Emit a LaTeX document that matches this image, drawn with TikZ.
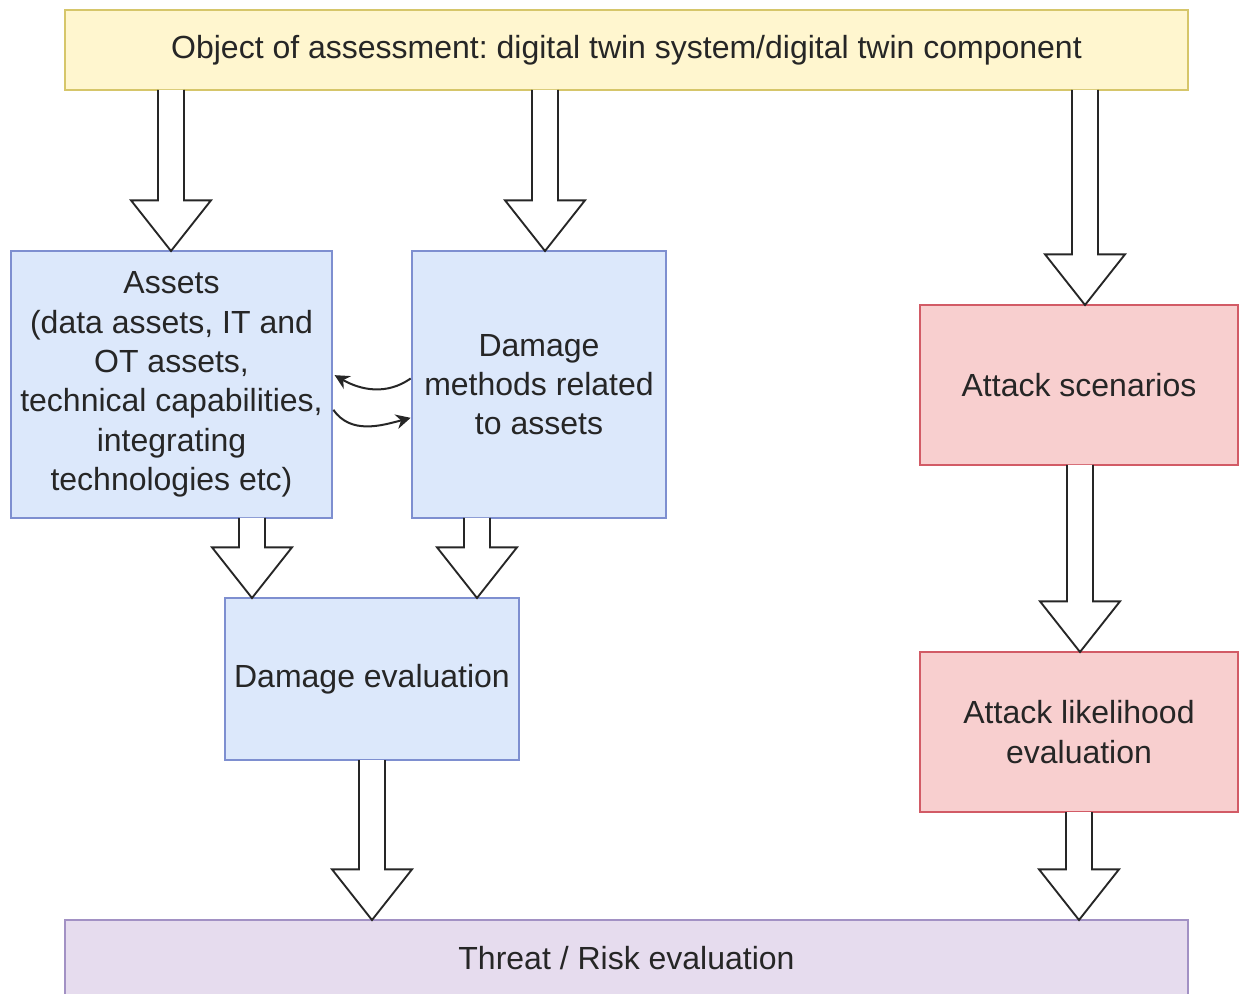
\documentclass[tikz,border=0pt]{standalone}
\usepackage{fontspec}
\setmainfont{Liberation Sans}
\usetikzlibrary{arrows.meta,calc}
\definecolor{yfill}{HTML}{FFF6CF}
\definecolor{ydraw}{HTML}{D6C66A}
\definecolor{bfill}{HTML}{DCE8FB}
\definecolor{bdraw}{HTML}{7E8FD0}
\definecolor{rfill}{HTML}{F8CFCF}
\definecolor{rdraw}{HTML}{D25B66}
\definecolor{pfill}{HTML}{E6DCEE}
\definecolor{pdraw}{HTML}{A291C4}
\definecolor{txt}{HTML}{262626}
\tikzset{
  box/.style={draw, line width=1pt, anchor=north west, inner sep=2pt, outer sep=0pt,
    align=center, text=txt, font=\frenchspacing\fontsize{24}{29.5}\selectfont},
  ybox/.style={box, fill=yfill, draw=ydraw},
  bbox/.style={box, fill=bfill, draw=bdraw},
  rbox/.style={box, fill=rfill, draw=rdraw},
  pbox/.style={box, fill=pfill, draw=pdraw},
  blockarrow/.style={draw=black!85, fill=white, line width=1.4pt, line join=miter},
  curvarrow/.style={draw=black!85, line width=1.5pt, -{Stealth[length=11pt,width=11pt]}}
}
% #1 x centre (px), #2 source node, #3 target node
\newcommand{\bigarrow}[3]{%
  \draw[blockarrow] let \p1=(#2.south), \p2=(#3.north) in
    ({(#1-13)*0.75pt},\y1) -- ({(#1-13)*0.75pt},\y2+38pt) -- ({(#1-40)*0.75pt},\y2+38pt)
    -- ({#1*0.75pt},\y2) -- ({(#1+40)*0.75pt},\y2+38pt) -- ({(#1+13)*0.75pt},\y2+38pt)
    -- ({(#1+13)*0.75pt},\y1);
}
\begin{document}
\begin{tikzpicture}[x=0.75pt,y=-0.75pt]
\useasboundingbox[fill=white] (0,0) rectangle (1239,994);
\clip (0,0) rectangle (1239,994);

\node[ybox, minimum width=842.25pt, minimum height=60pt] (top) at (65,10)
  {Object of assessment: digital twin system/digital twin component};
\node[bbox, minimum width=240.75pt, minimum height=200.25pt] (assets) at (11,251)
  {Assets\\(data assets, IT and\\OT assets,\\technical capabilities,\\integrating\\technologies etc)};
\node[bbox, minimum width=190.5pt, minimum height=200.25pt] (dm) at (412,251)
  {Damage\\methods related\\to assets};
\node[bbox, minimum width=220.5pt, minimum height=121.5pt] (de) at (225,598)
  {Damage evaluation};
\node[rbox, minimum width=238.5pt, minimum height=120pt] (scen) at (920,305)
  {Attack scenarios};
\node[rbox, minimum width=238.5pt, minimum height=120pt] (lik) at (920,652)
  {Attack likelihood\\evaluation};
\node[pbox, minimum width=842.25pt, minimum height=57.75pt] (risk) at (65,920)
  {Threat / Risk evaluation};

\bigarrow{171}{top}{assets}
\bigarrow{545}{top}{dm}
\bigarrow{1085}{top}{scen}
\bigarrow{252}{assets}{de}
\bigarrow{477}{dm}{de}
\bigarrow{372}{de}{risk}
\bigarrow{1080}{scen}{lik}
\bigarrow{1079}{lik}{risk}

\coordinate (c1) at ([xshift=-1pt,yshift=4.5pt]dm.west);
\coordinate (c2) at ([xshift=2pt,yshift=7pt]assets.east);
\coordinate (c3) at ([xshift=1pt,yshift=-19pt]assets.east);
\coordinate (c4) at ([xshift=-1pt,yshift=-25pt]dm.west);
\draw[curvarrow] (c1) to[out=215, in=-30] (c2);
\draw[curvarrow] (c3) to[out=-55, in=195] (c4);
\end{tikzpicture}
\end{document}
